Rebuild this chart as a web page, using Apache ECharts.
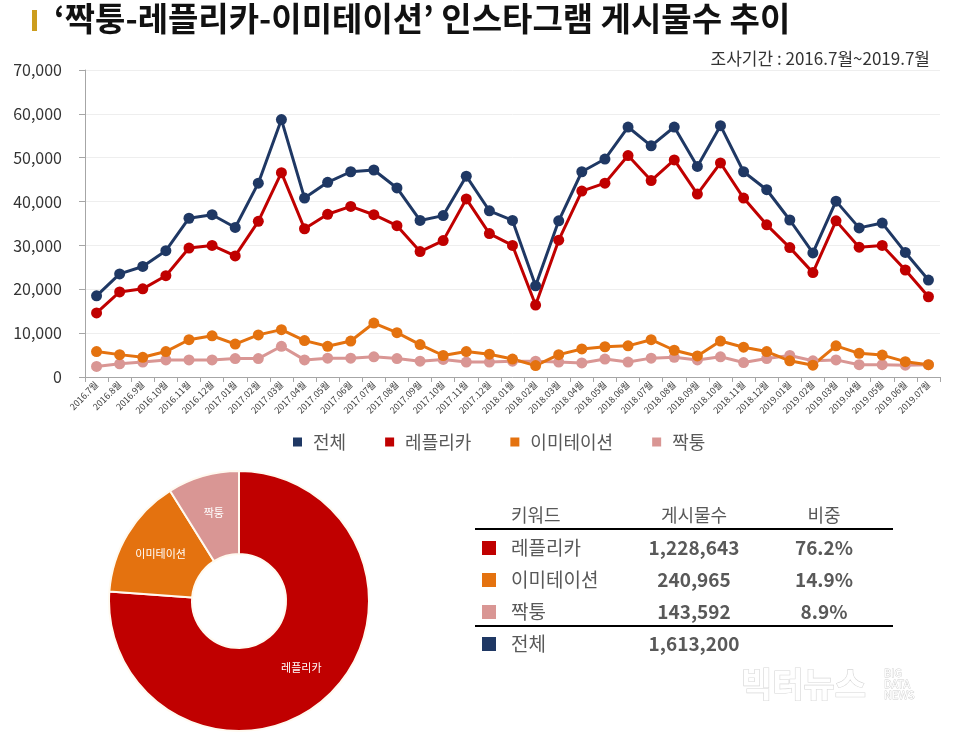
<!DOCTYPE html>
<html>
<head>
<meta charset="utf-8">
<script src="https://cdn.jsdelivr.net/npm/echarts@6/dist/echarts.min.js"></script>
<style>
html,body{margin:0;padding:0;background:#fff;}
#chart{width:960px;height:739px;}
</style>
</head>
<body>
<div id="chart"></div>
<script>
// ---- data ----
const months = ['2016.7월','2016.8월','2016.9월','2016.10월','2016.11월','2016.12월',
  '2017.01월','2017.02월','2017.03월','2017.04월','2017.05월','2017.06월','2017.07월','2017.08월','2017.09월','2017.10월','2017.11월','2017.12월',
  '2018.01월','2018.02월','2018.03월','2018.04월','2018.05월','2018.06월','2018.07월','2018.08월','2018.09월','2018.10월','2018.11월','2018.12월',
  '2019.01월','2019.02월','2019.03월','2019.04월','2019.05월','2019.06월','2019.07월'];
const totalSeries = [18500,23500,25200,28800,36200,37000,34100,44200,58700,40800,44400,46800,47200,43100,35700,36800,45800,37900,
  35700,20800,35600,46800,49700,57000,52700,57000,48000,57300,46800,42700,35800,28300,40100,34000,35100,28400,22100];
const replicaSeries = [14600,19400,20100,23100,29400,30000,27600,35500,46600,33800,37100,38900,37000,34500,28600,31100,40600,32700,
  30000,16400,31200,42400,44200,50500,44800,49500,41700,48800,40800,34700,29500,23800,35600,29600,30000,24400,18300];
const imitationSeries = [5800,5100,4500,5800,8500,9400,7500,9600,10800,8300,7000,8200,12300,10100,7400,4900,5800,5200,
  4100,2600,5100,6400,6900,7100,8500,6100,4800,8200,6800,5800,3700,2700,7100,5400,5000,3500,2800];
const fakeSeries = [2400,3000,3400,3900,3900,3900,4200,4200,7000,3900,4300,4300,4600,4200,3600,4000,3400,3400,
  3600,3600,3400,3200,4100,3400,4300,4500,3900,4600,3300,4200,4900,3700,3900,2800,2800,2700,2800];
const yTicks = [0,10000,20000,30000,40000,50000,60000,70000];

const keywords = ['레플리카','이미테이션','짝퉁'];
const keywordCounts = [1228643,240965,143592];
const keywordShares = ['76.2%','14.9%','8.9%'];
const totalLabel = '전체';
const totalCount = 1613200;

const titleText = '‘짝퉁-레플리카-이미테이션’ 인스타그램 게시물수 추이';
const periodText = '조사기간 : 2016.7월~2019.7월';
const tableHeaders = ['키워드','게시물수','비중'];

// ---- styles ----
const C_NAVY = '#1F3864', C_RED = '#C00000', C_ORANGE = '#E4720F', C_PINK = '#D99694';
const textGray = '#595959';
const FONT = '"Noto Sans CJK KR","Noto Sans",sans-serif';
const fmt = n => n.toLocaleString('en-US');

function lineSeries(name, data, color) {
  return {
    name, type: 'line', data, xAxisIndex: 0, yAxisIndex: 0,
    symbol: 'circle', symbolSize: 11, showSymbol: true,
    lineStyle: { color, width: 3 }, itemStyle: { color },
    emphasis: { disabled: true }, animation: false, z: 3
  };
}

const tableColors = [C_RED, C_ORANGE, C_PINK];
const g = [];
g.push({ type: 'rect', left: 32, top: 10, shape: { width: 5, height: 21 }, style: { fill: '#CC9D1E' } });
g.push({ type: 'text', left: 54, top: 2, style: { text: titleText, font: 'bold 33px ' + FONT, fill: '#111' } });
g.push({ type: 'text', right: 30, top: 50, style: { text: periodText, font: '17px ' + FONT, fill: '#333' } });

const colX = [511, 694, 824];
const headerY = 515, rowY = [548, 580, 612], totalY = 644;
g.push({ type: 'text', x: colX[0], y: headerY, style: { text: tableHeaders[0], font: '18px ' + FONT, fill: textGray, textVerticalAlign: 'middle' } });
g.push({ type: 'text', x: colX[1], y: headerY, style: { text: tableHeaders[1], font: '18px ' + FONT, fill: textGray, textAlign: 'center', textVerticalAlign: 'middle' } });
g.push({ type: 'text', x: colX[2], y: headerY, style: { text: tableHeaders[2], font: '18px ' + FONT, fill: textGray, textAlign: 'center', textVerticalAlign: 'middle' } });
g.push({ type: 'line', shape: { x1: 475, y1: 529, x2: 893, y2: 529 }, style: { stroke: '#000', lineWidth: 2 } });
g.push({ type: 'line', shape: { x1: 475, y1: 626, x2: 893, y2: 626 }, style: { stroke: '#000', lineWidth: 2 } });
keywords.forEach((k, i) => {
  g.push({ type: 'rect', shape: { x: 482, y: rowY[i] - 7, width: 14, height: 14 }, style: { fill: tableColors[i] } });
  g.push({ type: 'text', x: colX[0], y: rowY[i], style: { text: k, font: '19px ' + FONT, fill: textGray, textVerticalAlign: 'middle' } });
  g.push({ type: 'text', x: colX[1], y: rowY[i], style: { text: fmt(keywordCounts[i]), font: 'bold 19px ' + FONT, fill: textGray, textAlign: 'center', textVerticalAlign: 'middle' } });
  g.push({ type: 'text', x: colX[2], y: rowY[i], style: { text: keywordShares[i], font: 'bold 19px ' + FONT, fill: textGray, textAlign: 'center', textVerticalAlign: 'middle' } });
});
g.push({ type: 'rect', shape: { x: 482, y: totalY - 7, width: 14, height: 14 }, style: { fill: C_NAVY } });
g.push({ type: 'text', x: colX[0], y: totalY, style: { text: totalLabel, font: '19px ' + FONT, fill: textGray, textVerticalAlign: 'middle' } });
g.push({ type: 'text', x: colX[1], y: totalY, style: { text: fmt(totalCount), font: 'bold 19px ' + FONT, fill: textGray, textAlign: 'center', textVerticalAlign: 'middle' } });

// watermark
g.push({ type: 'text', x: 741, y: 684, style: { text: '빅터뉴스', font: 'bold 34px ' + FONT, fill: '#fff', stroke: '#d6d6d6', lineWidth: 1.2, textVerticalAlign: 'middle' } });
g.push({ type: 'text', x: 884, y: 684, style: { text: 'BIG\nDATA\nNEWS', font: '11px ' + FONT, lineHeight: 11, fill: '#fff', stroke: '#cfcfcf', lineWidth: 0.8, textVerticalAlign: 'middle' } });

const option = {
  backgroundColor: '#fff',
  animation: false,
  textStyle: { fontFamily: FONT },
  grid: { left: 85, right: 20, top: 70, bottom: 362, containLabel: false },
  legend: {
    data: ['전체','레플리카','이미테이션','짝퉁'],
    left: 288, top: 428,
    icon: 'rect', itemWidth: 9, itemHeight: 9, itemGap: 39,
    selectedMode: false,
    textStyle: { fontSize: 18, color: textGray, fontFamily: FONT, padding: [0, 0, 0, 6] }
  },
  xAxis: {
    type: 'category', data: months, boundaryGap: true,
    axisLine: { lineStyle: { color: '#a6a6a6' } },
    axisTick: { show: true, length: 5, lineStyle: { color: '#a6a6a6' } },
    axisLabel: { rotate: 45, fontSize: 9, color: '#404040', margin: 6, interval: 0 }
  },
  yAxis: {
    type: 'value', min: yTicks[0], max: yTicks[yTicks.length - 1], interval: 10000,
    axisLine: { show: true, lineStyle: { color: '#a6a6a6' } },
    axisTick: { show: true, length: 6, lineStyle: { color: '#a6a6a6' } },
    splitLine: { lineStyle: { color: '#eeeeee' } },
    axisLabel: { fontSize: 16, color: '#333', margin: 23, formatter: v => fmt(v) }
  },
  series: [
    lineSeries('짝퉁', fakeSeries, C_PINK),
    lineSeries('이미테이션', imitationSeries, C_ORANGE),
    lineSeries('레플리카', replicaSeries, C_RED),
    lineSeries('전체', totalSeries, C_NAVY),
    {
      name: '비중', type: 'pie', center: [239, 601], radius: [47, 130],
      startAngle: 90, clockwise: true, animation: false, silent: true,
      legendHoverLink: false,
      itemStyle: { borderColor: '#fffaf0', borderWidth: 2 },
      label: { show: true, position: 'inside', color: '#fff', fontSize: 11, formatter: '{b}' },
      labelLine: { show: false },
      data: keywords.map((k, i) => ({ name: k, value: keywordCounts[i], itemStyle: { color: tableColors[i] } }))
    }
  ],
  graphic: g
};
const chart = echarts.init(document.getElementById('chart'), null, { renderer: 'canvas' });
chart.setOption(option);
</script>
</body>
</html>
